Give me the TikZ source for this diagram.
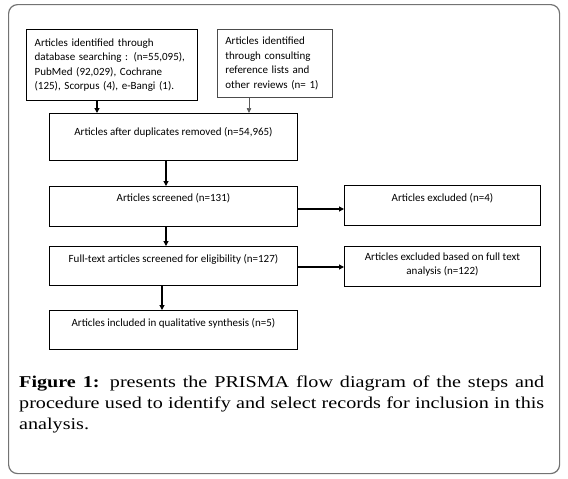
\documentclass[tikz,border=0pt]{standalone}
\usepackage{fontspec}
\usetikzlibrary{arrows.meta}
\newfontfamily\boxfont{Carlito}
\newfontfamily\capfont{Liberation Serif}[FakeStretch=1.22]
\hbadness=10000
\tolerance=10000
\hyphenpenalty=10000
\begin{document}
\begin{tikzpicture}[x=1pt,y=-1pt,
  box/.style={draw=black, line width=0.9pt, inner sep=0pt, anchor=north west, fill=white},
  txt/.style={font=\boxfont\fontsize{11}{14.5}\selectfont, inner sep=0pt, align=center},
  arr/.style={line width=1.1pt, -{Triangle[length=5pt,width=5pt]}},
  grayarr/.style={line width=0.7pt, draw=black!65, -{Triangle[length=5pt,width=4.5pt]}, color=black!65},
  frame/.style={draw=black!55, line width=1.2pt, rounded corners=9pt, inner sep=0pt, anchor=north west}
]
\fill[white] (0,0) rectangle (568,479);
\useasboundingbox (0,0) rectangle (568,479);
\node[frame, minimum width=551pt, minimum height=469pt] (frame) at (8,4) {};

% boxes
\node[box, txt, line width=1.3pt, align=left, text width=155pt, inner xsep=8pt, minimum width=171pt, minimum height=71pt] (b1) at (26,29)
  {Articles identified through\\database searching : (n=55,095),\\PubMed (92,029), Cochrane\\(125), Scorpus (4), e-Bangi (1).};
\node[box, txt, draw=black!70, line width=0.7pt, align=left, text width=99pt, inner xsep=8pt, minimum width=115pt, minimum height=68pt] (b2) at (217,29)
  {Articles identified\\through consulting\\reference lists and\\other reviews (n= 1)};
\node[box, minimum width=248pt, minimum height=47pt] (b3) at (49,113) {};
\node[box, minimum width=248pt, minimum height=40pt] (b4) at (49,186) {};
\node[box, minimum width=196pt, minimum height=40pt] (b5) at (344,185) {};
\node[box, minimum width=248pt, minimum height=39pt] (b6) at (49,246) {};
\node[box, minimum width=196pt, minimum height=40pt] (b7) at (344,246) {};
\node[box, minimum width=248pt, minimum height=39pt] (b8) at (49,310) {};

% texts
\node[txt] (t3) at ([yshift=-19pt]b3.north) {Articles after duplicates removed (n=54,965)};
\node[txt] (t4) at ([yshift=-12pt]b4.north) {Articles screened (n=131)};
\node[txt] (t5) at ([yshift=-13pt]b5.north) {Articles excluded (n=4)};
\node[txt] (t6) at ([yshift=-13pt]b6.north) {Full-text articles screened for eligibility (n=127)};
\node[txt, font=\boxfont\fontsize{11}{13.5}\selectfont] (t7) at ([yshift=-18.5pt]b7.north) {Articles excluded based on full text\\analysis (n=122)};
\node[txt] (t8) at ([yshift=-13pt]b8.north) {Articles included in qualitative synthesis (n=5)};

% connectors
\coordinate (x1) at (97,0);
\coordinate (x2) at (249,0);
\coordinate (x3) at (166,0);
\coordinate (x5) at (162,0);
\coordinate (y6) at (0,209);
\coordinate (y7) at (0,267);
\draw[arr, line width=1.4pt] (b1.south -| x1) -- (b3.north -| x1);
\draw[grayarr] (b2.south -| x2) -- (b3.north -| x2);
\draw[arr] (b3.south -| x3) -- (b4.north -| x3);
\draw[arr] (b4.south -| x3) -- (b6.north -| x3);
\draw[arr] (b6.south -| x5) -- (b8.north -| x5);
\draw[arr] (b4.east |- y6) -- (b5.west |- y6);
\draw[arr] (b6.east |- y7) -- (b7.west |- y7);

% caption
\node[anchor=north west, inner sep=0pt, text width=525pt, align=justify,
      font=\capfont\fontsize{16.5}{21}\selectfont] (cap) at (19,372.3)
  {\strut\textbf{Figure 1:} presents the PRISMA flow diagram of the steps and\linebreak procedure used to identify and select records for inclusion in this\linebreak analysis.};
\end{tikzpicture}
\end{document}
